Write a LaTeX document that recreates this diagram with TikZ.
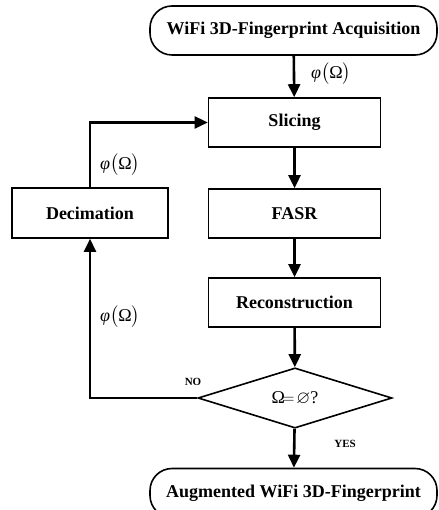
\documentclass[tikz,border=0pt]{standalone}
\usepackage{amssymb}
\usepackage{amsmath}
\usepackage{fontspec}
\setmainfont{Liberation Serif}
\usetikzlibrary{positioning}
\usetikzlibrary{arrows.meta}
\usetikzlibrary{shapes.geometric}
\newcommand{\phiomega}{{\itshape φ}$\big($Ω$\big)$}
\begin{document}
\begin{tikzpicture}[x=1pt,y=-1pt,node distance=41pt,>={Triangle[length=13pt,width=12pt]},
  block/.style={draw,line width=1.6pt,minimum width=172pt,minimum height=49pt,inner sep=0pt,font=\fontsize{18}{21}\selectfont\bfseries},
  term/.style={draw,line width=1.6pt,rounded corners=22pt,minimum width=287pt,minimum height=49pt,inner sep=0pt,font=\fontsize{18}{21}\selectfont\bfseries},
  flow/.style={line width=2.6pt,->},
  lbl/.style={font=\fontsize{18}{21}\selectfont}]

\useasboundingbox (0,0) rectangle (438,510);

\node[term] (acq) at (293.5,30.5) {WiFi 3D-Fingerprint Acquisition};
\node[block] (slice) at (294.5,122.5) {Slicing};
\node[block] (fasr) at (294.5,213.5) {FASR};
\node[block] (recon) at (294.5,302.5) {Reconstruction};
\node[draw,diamond,line width=1.6pt,minimum width=194pt,minimum height=59pt,inner sep=0pt,font=\fontsize{18}{21}\selectfont] (check) at (295,398) {Ω$\!=\!\varnothing$?};
\node[term] (aug) at (293.5,493) {Augmented WiFi 3D-Fingerprint};
\node[block,minimum width=156pt,minimum height=50pt] (deci) at (90,213) {Decimation};

\draw[flow] (acq) -- (slice);
\draw[flow] (slice) -- (fasr);
\draw[flow] (fasr) -- (recon);
\draw[flow] (recon) -- (check);
\draw[flow] (check) -- (aug);
\draw[flow] (check.west) -| (deci.south);
\draw[flow] (deci.north) |- (slice.west);

\node[lbl] (phitop) at (331,74) {\phiomega};
\node[lbl] (phiup) at (120,165) {\phiomega};
\node[lbl] (philow) at (120,317) {\phiomega};
\node[font=\fontsize{11}{13}\selectfont\bfseries] (no) at (193,382) {NO};
\node[font=\fontsize{11}{13}\selectfont\bfseries] (yes) at (345,444) {YES};
\end{tikzpicture}
\end{document}
